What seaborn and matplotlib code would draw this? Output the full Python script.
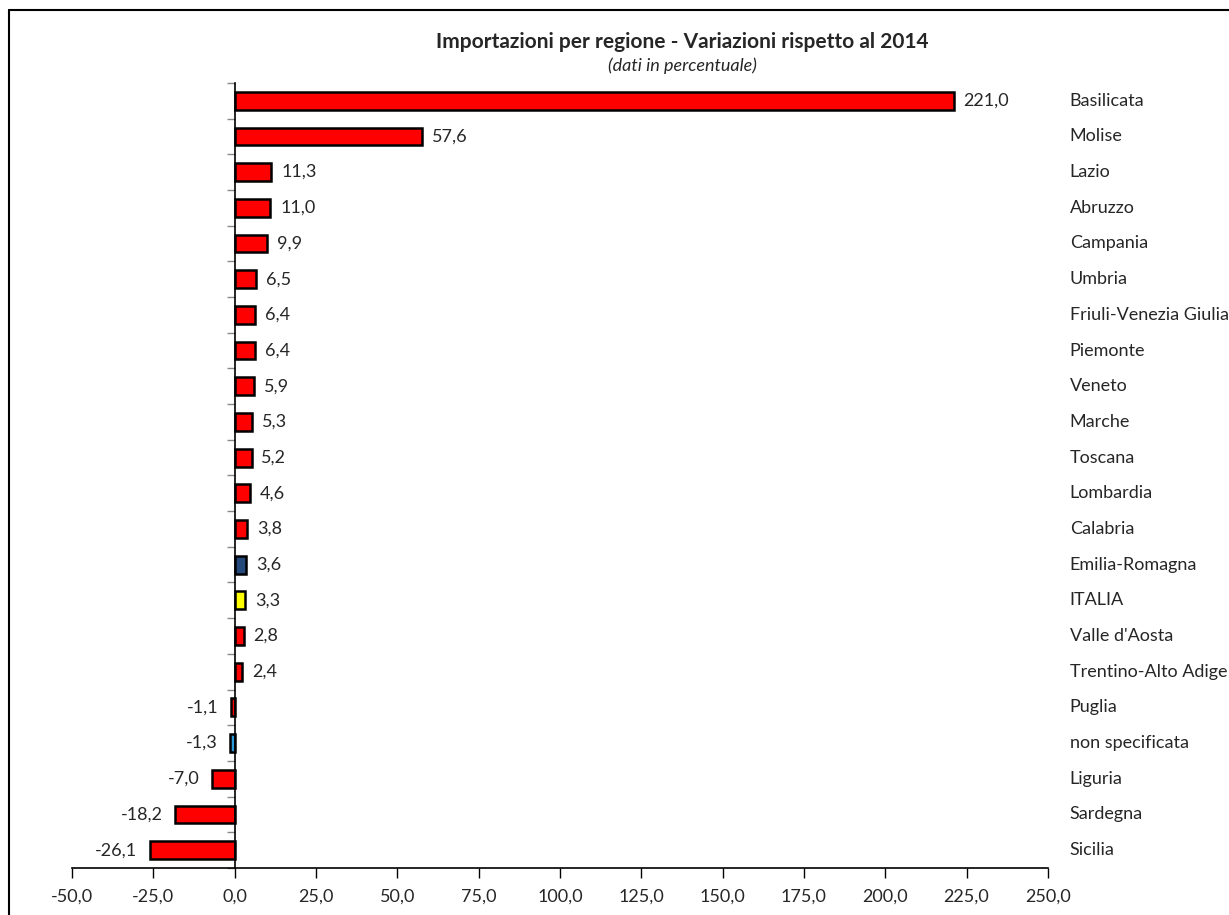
import numpy as np
import matplotlib
matplotlib.use("Agg")
import matplotlib.pyplot as plt
import matplotlib.transforms as mtransforms
from matplotlib.lines import Line2D
import seaborn as sns

# Data
regions = ["Basilicata", "Molise", "Lazio", "Abruzzo", "Campania", "Umbria",
           "Friuli-Venezia Giulia", "Piemonte", "Veneto", "Marche", "Toscana",
           "Lombardia", "Calabria", "Emilia-Romagna", "ITALIA", "Valle d'Aosta",
           "Trentino-Alto Adige", "Puglia", "non specificata", "Liguria",
           "Sardegna", "Sicilia"]
values = [221.0, 57.6, 11.3, 11.0, 9.9, 6.5, 6.4, 6.4, 5.9, 5.3, 5.2, 4.6,
          3.8, 3.6, 3.3, 2.8, 2.4, -1.1, -1.3, -7.0, -18.2, -26.1]
special_colors = {"Emilia-Romagna": "#24497A", "ITALIA": "#FFFF00",
                  "non specificata": "#2C9AD8"}
bar_colors = [special_colors.get(r, "#FF0000") for r in regions]
xticks = [-50, -25, 0, 25, 50, 75, 100, 125, 150, 175, 200, 225, 250]

sns.set_style("white")
plt.rcParams['font.family'] = ['Lato', 'DejaVu Sans']

fig = plt.figure(figsize=(12.29, 9.15), dpi=100)
ax = fig.add_axes([0.0586, 0.0514, 0.794, 0.858])

sns.barplot(x=values, y=regions, hue=regions, palette=bar_colors, legend=False,
            orient="h", width=0.5, edgecolor="black", linewidth=1.8,
            saturation=1, ax=ax)

n = len(regions)
ax.set_xlim(-50, 250)
ax.set_ylim(n - 0.5, -0.5)
ax.set_xticks(xticks)
ax.set_xticklabels([f"{t:.1f}".replace(".", ",") for t in xticks], fontsize=13)
ax.set_yticks(np.arange(-0.5, n, 1))
ax.set_yticklabels([])
ax.set_xlabel("")
ax.set_ylabel("")

for s in ["top", "right"]:
    ax.spines[s].set_visible(False)
ax.spines["left"].set_position(("data", 0))
for s in ["left", "bottom"]:
    ax.spines[s].set_color("black")
    ax.spines[s].set_linewidth(1.2)
ax.tick_params(axis="x", direction="out", length=7, width=1, color="black",
               bottom=True, pad=8)
ax.tick_params(axis="y", direction="out", length=6, width=1, color="#888888",
               left=True)

# value labels
for i, v in enumerate(values):
    lab = f"{v:.1f}".replace(".", ",")
    if v >= 0:
        ax.annotate(lab, (v, i), xytext=(7, 0), textcoords="offset points",
                    va="center", ha="left", fontsize=13)
    else:
        ax.annotate(lab, (v, i), xytext=(-9, 0), textcoords="offset points",
                    va="center", ha="right", fontsize=13)

# category names on the right
trans = mtransforms.blended_transform_factory(ax.transAxes, ax.transData)
for i, r in enumerate(regions):
    ax.text(1.0225, i, r, transform=trans, va="center", ha="left", fontsize=13)

fig.text(0.555, 0.954, "Importazioni per regione - Variazioni rispetto al 2014",
         ha="center", va="center", fontsize=15, fontweight="bold")
fig.text(0.555, 0.928, "(dati in percentuale)", ha="center", va="center",
         fontsize=13, style="italic")

# frame around the chart
fig.add_artist(Line2D([9 / 1229, 1.0], [1 - 10 / 915, 1 - 10 / 915],
                      transform=fig.transFigure, color="black", linewidth=1.5))
fig.add_artist(Line2D([9 / 1229, 9 / 1229], [0.0, 1 - 10 / 915],
                      transform=fig.transFigure, color="black", linewidth=1.5))

fig.savefig("out.png", dpi=100)
